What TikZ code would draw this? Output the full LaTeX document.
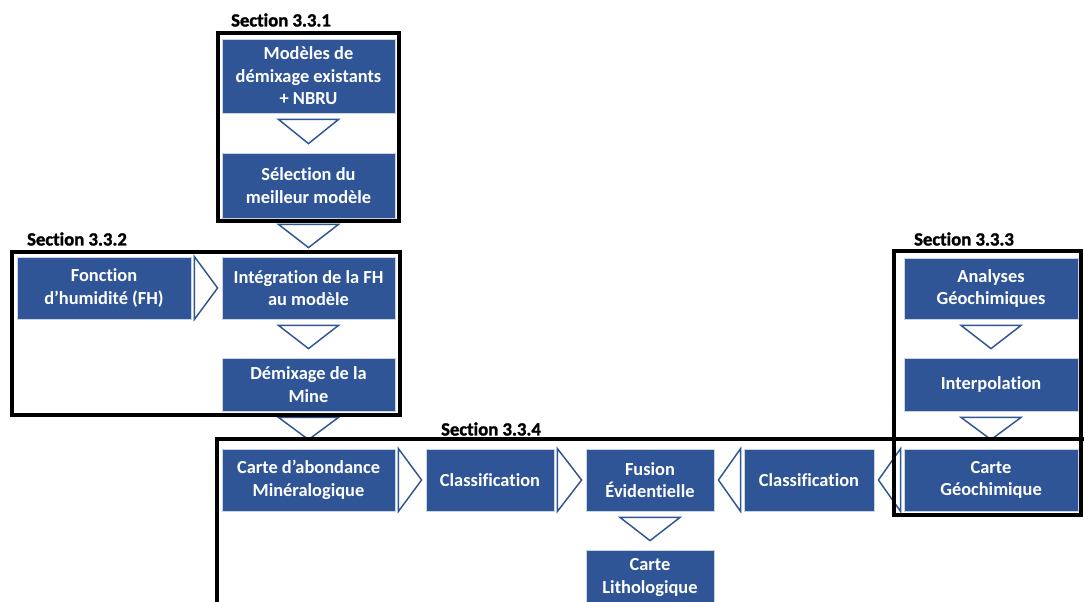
\documentclass[tikz,border=0pt]{standalone}
\usepackage{fontspec}
\setmainfont{Carlito}[RawFeature={-liga}]
\newfontfamily\heavyfont{Carlito}[RawFeature={-liga}, BoldFeatures={FakeBold=1.4}]
\usetikzlibrary{calc}
\definecolor{boxblue}{HTML}{2F5597}
\begin{document}
\begin{tikzpicture}[x=0.75pt,y=-0.75pt,
  box/.style={fill=boxblue, draw=white!75!boxblue, line width=0.6pt, text=white, align=center, inner sep=0pt, font=\bfseries\fontsize{13.8}{16.9}\selectfont},
  bx/.style 2 args={box, minimum width=#1*0.75pt, minimum height=#2*0.75pt},
  frame/.style={draw=black, line width=3pt},
  lbl/.style={font=\heavyfont\bfseries\fontsize{14}{16}\selectfont, inner sep=0pt},
  tri/.style={draw=boxblue, fill=white, line width=1.1pt, line join=miter}]
\clip (0,0) rectangle (1084,601);
\fill[white] (0,0) rectangle (1084,601);

% boxes
\node[bx={173}{74}] (mod) at (308.5,76) {Modèles de\\démixage existants\\+ NBRU};
\node[bx={173}{65}] (sel) at (308.5,185.5) {Sélection du\\meilleur modèle};
\node[bx={174}{62}] (fh) at (104,288) {Fonction\\d’humidité (FH)};
\node[bx={173}{62}] (integ) at (308.5,288) {Intégration de la FH\\au modèle};
\node[bx={173}{53}] (demix) at (308.5,384.5) {Démixage de la\\Mine};
\node[bx={174}{61}] (anal) at (991,288.5) {Analyses\\Géochimiques};
\node[bx={174}{53}] (interp) at (991,384.5) {Interpolation};
\node[bx={174}{62}] (geo) at (991,480) {Carte\\Géochimique};
\node[bx={130}{62}] (classb) at (809,480) {Classification};
\node[bx={128}{62}] (fus) at (650,480) {Fusion\\Évidentielle};
\node[bx={128}{62}] (classa) at (490,480) {Classification};
\node[bx={173}{62}] (abond) at (308.5,480) {Carte d’abondance\\Minéralogique};
\node[bx={128}{55}] (litho) at (650,577.5) {Carte\\Lithologique};

% downward triangles
\foreach \a/\b in {mod/sel, sel/integ, integ/demix, demix/abond, fus/litho, anal/interp, interp/geo}{
  \path[tri] ($(\a.south)+(-30,6)$) -- ($(\a.south)+(30,6)$) -- ($(\b.north)+(0,-9)$) -- cycle;
}
% rightward triangles
\foreach \a/\b in {fh/integ, abond/classa, classa/fus}{
  \path[tri] ($(\a.north east)+(3,0)$) -- ($(\a.south east)+(3,0)$) -- ($(\b.west)+(-4,0)$) -- cycle;
}
% leftward triangles
\foreach \a/\b in {geo/classb, classb/fus}{
  \path[tri] ($(\a.north west)+(-3,0)$) -- ($(\a.south west)+(-3,0)$) -- ($(\b.east)+(4,0)$) -- cycle;
}

% section frames
\draw[frame] (218,33) rectangle (399,221);
\draw[frame] (12,252) rectangle (400,415);
\draw[frame] (894,251) rectangle (1081,515);
\draw[frame] (217,439) rectangle (1110,650);

% section labels
\node[lbl] (s1) at (281,20) {Section 3.3.1};
\node[lbl] (s2) at (77,239) {Section 3.3.2};
\node[lbl] (s3) at (964,239) {Section 3.3.3};
\node[lbl] (s4) at (491,429) {Section 3.3.4};
\end{tikzpicture}
\end{document}
